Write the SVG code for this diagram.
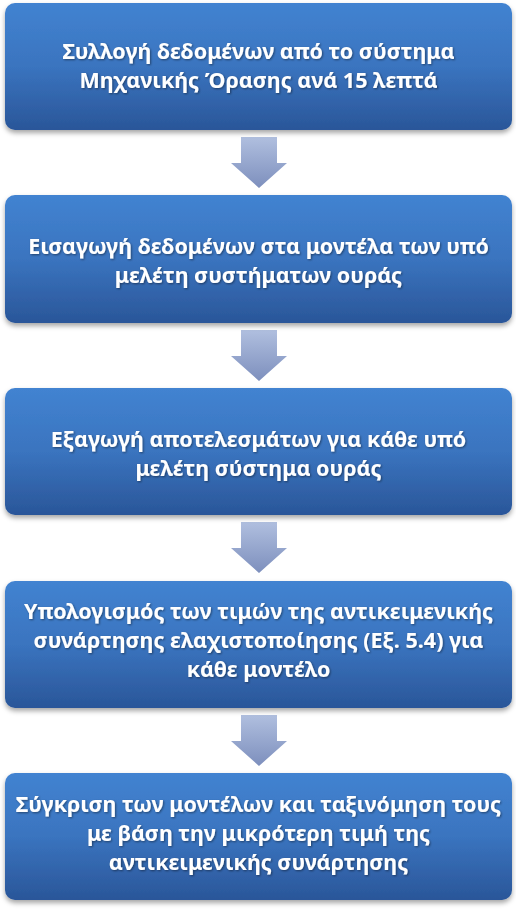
<svg xmlns="http://www.w3.org/2000/svg" width="516" height="911" viewBox="0 0 516 911">
<defs>
<linearGradient id="boxg" x1="0" y1="0" x2="0" y2="1">
<stop offset="0" stop-color="#4283d1"/>
<stop offset="0.5" stop-color="#3a74bf"/>
<stop offset="1" stop-color="#2a5699"/>
</linearGradient>
<linearGradient id="arrg" x1="0" y1="0" x2="0" y2="1">
<stop offset="0" stop-color="#b0bfdf"/>
<stop offset="1" stop-color="#7d8fbd"/>
</linearGradient>
<filter id="shadow" x="-5%" y="-10%" width="110%" height="125%">
<feDropShadow dx="0" dy="3" stdDeviation="2.5" flood-color="#000" flood-opacity="0.35"/>
</filter>
<filter id="tshadow" x="-5%" y="-20%" width="110%" height="150%">
<feDropShadow dx="1" dy="1" stdDeviation="0.8" flood-color="#000" flood-opacity="0.45"/>
</filter>
<path id="arrow" d="M241,0 H277 V26 H287 L259,51 L231,26 H241 Z"/>
</defs>
<style>
.box { fill: url(#boxg); filter: url(#shadow); }
.lbl { font-family: "Noto Sans", "Open Sans", "DejaVu Sans", sans-serif; font-weight: bold; font-size: 21.5px; fill: #ffffff; text-anchor: middle; filter: url(#tshadow); }
.arr { fill: url(#arrg); }
</style>
<rect width="516" height="911" fill="#ffffff"/>
<g id="connectors">
<use href="#arrow" class="arr" y="137"/>
<use href="#arrow" class="arr" y="330"/>
<use href="#arrow" class="arr" y="522"/>
<use href="#arrow" class="arr" y="715"/>
</g>
<g id="node1">
<rect class="box" x="5" y="3" width="507" height="127" rx="10"/>
<text class="lbl" x="258.5" y="59">Συλλογή δεδομένων από το σύστημα</text>
<text class="lbl" x="258.5" y="88">Μηχανικής Όρασης ανά 15 λεπτά</text>
</g>
<g id="node2">
<rect class="box" x="5" y="195" width="507" height="128" rx="10"/>
<text class="lbl" x="258.5" y="254">Εισαγωγή δεδομένων στα μοντέλα των υπό</text>
<text class="lbl" x="258.5" y="283">μελέτη συστήματων ουράς</text>
</g>
<g id="node3">
<rect class="box" x="5" y="388" width="507" height="127" rx="10"/>
<text class="lbl" x="258.5" y="447">Εξαγωγή αποτελεσμάτων για κάθε υπό</text>
<text class="lbl" x="258.5" y="476">μελέτη σύστημα ουράς</text>
</g>
<g id="node4">
<rect class="box" x="5" y="581" width="507" height="127" rx="10"/>
<text class="lbl" x="258.5" y="619">Υπολογισμός των τιμών της αντικειμενικής</text>
<text class="lbl" x="258.5" y="648">συνάρτησης ελαχιστοποίησης (Εξ. 5.4) για</text>
<text class="lbl" x="258.5" y="677">κάθε μοντέλο</text>
</g>
<g id="node5">
<rect class="box" x="5" y="773" width="507" height="127" rx="10"/>
<text class="lbl" x="258.5" y="812">Σύγκριση των μοντέλων και ταξινόμηση τους</text>
<text class="lbl" x="258.5" y="841">με βάση την μικρότερη τιμή της</text>
<text class="lbl" x="258.5" y="870">αντικειμενικής συνάρτησης</text>
</g>
</svg>
